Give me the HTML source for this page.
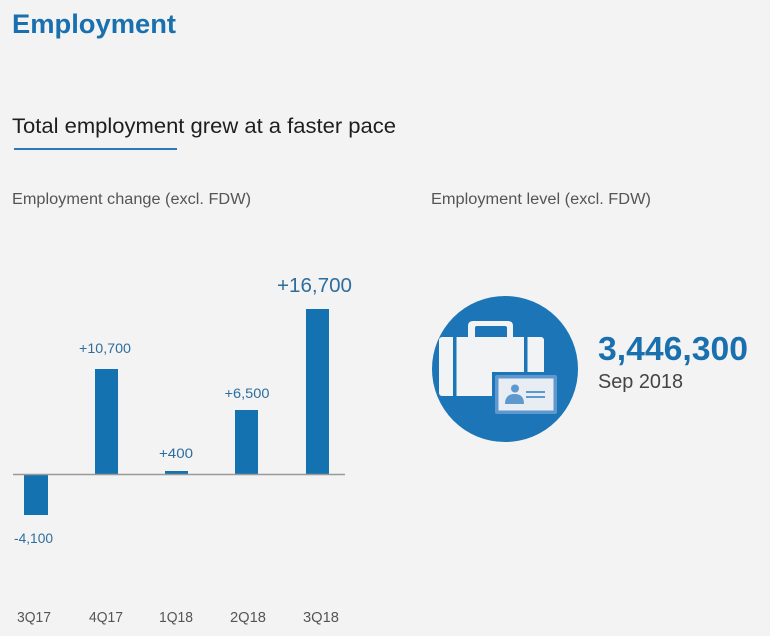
<!DOCTYPE html>
<html><head><meta charset="utf-8"><style>
html,body{margin:0;padding:0;background:#f3f3f3;}
svg{display:block;}
text{font-family:"Liberation Sans",Arial,sans-serif;}
</style></head><body>
<svg width="770" height="636" viewBox="0 0 770 636" xmlns="http://www.w3.org/2000/svg">
<rect width="770" height="636" fill="#f3f3f3"/>
<text x="12" y="33" font-size="27" font-weight="bold" fill="#1a70ae" textLength="164" lengthAdjust="spacingAndGlyphs">Employment</text>
<text x="12" y="133" font-size="21.5" fill="#1e1e1e" textLength="384" lengthAdjust="spacingAndGlyphs">Total employment grew at a faster pace</text>
<rect x="14" y="148" width="163" height="2" fill="#2a78b8"/>
<text x="12" y="204" font-size="15.5" fill="#555" textLength="239" lengthAdjust="spacingAndGlyphs">Employment change (excl. FDW)</text>
<text x="431" y="204" font-size="15.5" fill="#555" textLength="220" lengthAdjust="spacingAndGlyphs">Employment level (excl. FDW)</text>

<!-- bars -->
<g fill="#1572b1">
<rect x="24" y="474" width="24" height="41"/>
<rect x="95" y="369" width="23" height="105"/>
<rect x="165" y="471" width="23" height="3"/>
<rect x="235" y="410" width="23" height="64"/>
<rect x="306" y="309" width="23" height="165"/>
</g>
<line x1="13" y1="474.5" x2="345" y2="474.5" stroke="#9a9a9a" stroke-width="1.5"/>

<g fill="#2e6e9e" text-anchor="middle">
<text x="314.5" y="292" font-size="20" textLength="75" lengthAdjust="spacingAndGlyphs">+16,700</text>
<text x="105" y="353" font-size="14" textLength="52" lengthAdjust="spacingAndGlyphs">+10,700</text>
<text x="176" y="458" font-size="14" textLength="34" lengthAdjust="spacingAndGlyphs">+400</text>
<text x="247" y="398" font-size="14" textLength="45" lengthAdjust="spacingAndGlyphs">+6,500</text>
<text x="33.5" y="543" font-size="14" textLength="39" lengthAdjust="spacingAndGlyphs">-4,100</text>
</g>
<g fill="#555" text-anchor="middle" font-size="15">
<text x="34" y="622" textLength="34" lengthAdjust="spacingAndGlyphs">3Q17</text>
<text x="106" y="622" textLength="34" lengthAdjust="spacingAndGlyphs">4Q17</text>
<text x="176" y="622" textLength="34" lengthAdjust="spacingAndGlyphs">1Q18</text>
<text x="248" y="622" textLength="36" lengthAdjust="spacingAndGlyphs">2Q18</text>
<text x="321" y="622" textLength="36" lengthAdjust="spacingAndGlyphs">3Q18</text>
</g>

<!-- icon -->
<circle cx="505" cy="369" r="73" fill="#1c75b6"/>
<!-- handle -->
<path d="M468 337 V326 Q468 321 473 321 H508 Q513 321 513 326 V337 Z" fill="#f1f3f5"/>
<path d="M475 337 V328 Q475 326 477 326 H505 Q507 326 507 328 V337 Z" fill="#1c75b6"/>
<!-- body -->
<rect x="439" y="337" width="105" height="59" rx="3" fill="#f1f3f5"/>
<rect x="453" y="337" width="3.5" height="59" fill="#1c75b6"/>
<rect x="524" y="337" width="3.5" height="59" fill="#1c75b6"/>
<!-- id card -->
<rect x="492" y="372" width="68" height="45" fill="#1c75b6"/>
<rect x="495" y="375" width="62" height="39" rx="2" fill="#5f97cf"/>
<rect x="498.5" y="378.5" width="55" height="32" fill="#e8edf3"/>
<circle cx="515" cy="388.5" r="4" fill="#5f97cf"/>
<path d="M505 404 Q505 394 514.5 394 Q524 394 524 404 Z" fill="#5f97cf"/>
<rect x="526" y="391" width="19" height="2" fill="#5f97cf"/>
<rect x="526" y="396" width="19" height="2" fill="#5f97cf"/>

<text x="598" y="360" font-size="33" font-weight="bold" fill="#1a70ae" textLength="150" lengthAdjust="spacingAndGlyphs">3,446,300</text>
<text x="598" y="388" font-size="20" fill="#444" textLength="85" lengthAdjust="spacingAndGlyphs">Sep 2018</text>
</svg>
</body></html>
